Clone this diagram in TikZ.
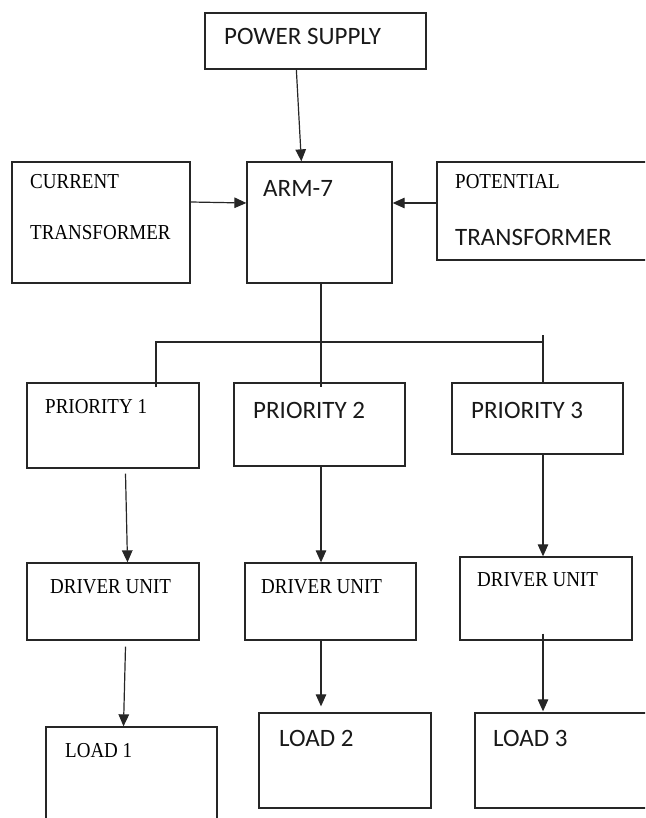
\documentclass[tikz,border=0pt]{standalone}
\usepackage{fontspec}
\setmainfont{Liberation Serif}
\newfontfamily\calfont{Carlito}
\newfontfamily\timesfont{Liberation Serif}
\newcommand\sertxt[1]{\scalebox{1}[1.12]{#1}}
\usetikzlibrary{arrows.meta,calc}
\begin{document}
\begin{tikzpicture}[x=1pt,y=1pt,
  box/.style={draw=black!85,line width=1.3pt,rectangle,inner sep=0pt},
  ser/.style={anchor=base west,inner sep=0pt,text=black,font=\fontsize{19}{19}\selectfont\timesfont},
  san/.style={anchor=base west,inner sep=0pt,text=black!90,font=\fontsize{25}{25}\selectfont\calfont},
  wire/.style={draw=black!85,line width=1.2pt},
  arr/.style={wire,-{Triangle[length=12pt,width=10.5pt]}}]
\useasboundingbox (0,0) rectangle (645,-818);
\clip (0,0) rectangle (645,-818);
% boxes
\node[box,minimum width=221pt,minimum height=56pt] (ps) at (315.5,-41) {};
\node[box,minimum width=178pt,minimum height=121pt] (ct) at (101,-222.5) {};
\node[box,minimum width=145pt,minimum height=121pt] (arm) at (319.5,-222.5) {};
\node[box,minimum width=240pt,minimum height=98pt] (pt) at (557,-211) {};
\node[box,minimum width=172pt,minimum height=85pt] (p1) at (113,-425.5) {};
\node[box,minimum width=171pt,minimum height=83pt] (p2) at (319.5,-424.5) {};
\node[box,minimum width=171pt,minimum height=71pt] (p3) at (537.5,-418.5) {};
\node[box,minimum width=172pt,minimum height=77pt] (du1) at (113,-601.5) {};
\node[box,minimum width=171pt,minimum height=77pt] (du2) at (330.5,-601.5) {};
\node[box,minimum width=172pt,minimum height=83pt] (du3) at (546,-598.5) {};
\node[box,minimum width=171pt,minimum height=110pt] (l1) at (131.5,-782) {};
\node[box,minimum width=172pt,minimum height=95pt] (l2) at (345,-760.5) {};
\node[box,minimum width=200pt,minimum height=95pt] (l3) at (575,-760.5) {};
% texts
\node[san] (pst) at (224,-45) {POWER SUPPLY};
\node[ser] (ct1) at (30,-189) {\sertxt{CURRENT}};
\node[ser] (ct2) at (30,-239) {\sertxt{TRANSFORMER}};
\node[san] (armt) at (263,-197) {ARM-7};
\node[ser] (pt1) at (455,-189) {\sertxt{POTENTIAL}};
\node[san] (pt2) at (455,-245) {TRANSFORMER};
\node[ser] (p1t) at (45,-413) {\sertxt{PRIORITY 1}};
\node[san] (p2t) at (253,-418) {PRIORITY 2};
\node[san] (p3t) at (471,-418) {PRIORITY 3};
\node[ser] (du1t) at (50,-593) {\sertxt{DRIVER UNIT}};
\node[ser] (du2t) at (261,-593) {\sertxt{DRIVER UNIT}};
\node[ser] (du3t) at (477,-586) {\sertxt{DRIVER UNIT}};
\node[ser] (l1t) at (65,-757) {\sertxt{LOAD 1}};
\node[san] (l2t) at (279,-746) {LOAD 2};
\node[san] (l3t) at (493,-746) {LOAD 3};
% connectors
\draw[arr] ([xshift=92pt]ps.south west) -- ([xshift=55pt]arm.north west);
\draw[arr] ([yshift=20.5pt]ct.east) -- ([yshift=19.5pt]arm.west);
\draw[arr] ([yshift=8pt]pt.west) -- ([yshift=19.5pt]arm.east);
\coordinate (bl) at (156,-342);
\coordinate (br) at (543,-342);
\draw[wire] ([xshift=1.5pt]arm.south) -- ([xshift=1.5pt,yshift=-5pt]p2.north);
\draw[wire] ($(p1.north -| bl)+(0,-5)$) -- (bl) -- (br);
\draw[wire] ($(br)+(0,7)$) -- (p3.north -| br);
\draw[arr] ($(p1.south)+(12.5,-5)$) -- ($(du1.north)+(14.5,0)$);
\draw[arr] ([xshift=1.5pt]p2.south) -- (du2.north -| {(321,0)});
\draw[arr] ([xshift=5.5pt]p3.south) -- (du3.north -| {(543,0)});
\draw[arr] ($(du1.south)+(12.5,-6)$) -- ($(l1.north)+(-8,0)$);
\draw[arr] (du2.south -| {(321,0)}) -- ($(l2.north -| {(321,0)})+(0,6)$);
\draw[arr] ($(du3.south -| {(543,0)})+(0,7)$) -- ($(l3.north -| {(543,0)})+(0,1)$);
\end{tikzpicture}
\end{document}
